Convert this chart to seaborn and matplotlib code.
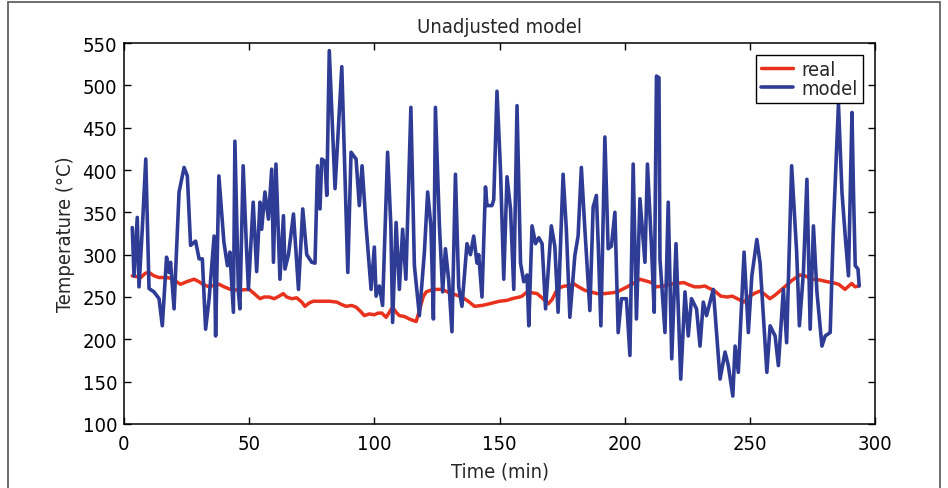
import seaborn as sns
import matplotlib.pyplot as plt
import matplotlib.patches as mpatches
import pandas as pd

# measured temperature (red)
real_time = [3.3, 6.7, 8.5, 10, 12, 14, 17, 19, 21, 22.6, 25, 28, 30, 31.5, 34, 36, 38, 40,
             42.5, 46, 50, 52, 54.3, 56, 58, 60, 62, 63.6, 65, 67, 69, 71, 72.3, 74, 75.6,
             78, 82, 85, 87, 88.7, 91, 92.7, 94.5, 96, 98, 100, 101.5, 103, 104.7, 106,
             107.3, 108.7, 110, 112, 114, 116.7, 118, 119.5, 120.7, 122.5, 124.5, 127, 130,
             133, 135, 137.5, 140, 143, 146, 150, 153, 155, 158, 159, 161, 163, 165, 167,
             169.5, 171, 172.5, 174, 176, 178, 179.5, 181, 184, 186.5, 189, 192, 195, 197,
             199, 201, 203.5, 206, 208.5, 210.7, 212.5, 215.7, 218, 220, 223.7, 226, 228,
             230, 232, 234, 236, 238.4, 241, 243, 245, 247.7, 249.5, 251.7, 254, 256, 258,
             260, 262, 264.7, 267, 270, 272, 275, 278, 281, 283, 285.5, 288, 290.7, 292, 293.4]
real_temp = [275, 273, 278, 279, 275, 273, 273, 272, 268, 265, 268, 271, 268, 265, 262, 264,
             265, 262, 259, 258, 259, 254, 248, 250, 250, 248, 251, 254, 250, 248, 249, 244,
             239, 243, 245, 245, 245, 244, 241, 239, 240, 238, 233, 228, 230, 229, 231, 231,
             226, 232, 238, 232, 228, 227, 224, 221, 234, 250, 256, 258, 259, 259, 255, 252,
             250, 245, 239, 240, 242, 245, 246, 248, 250, 251, 256, 255, 254, 249, 242, 247,
             256, 261, 263, 263, 266, 263, 258, 256, 254, 254, 255, 256, 259, 262, 266, 271,
             269, 267, 262, 263, 265, 266, 267, 264, 262, 262, 263, 260, 257, 251, 250, 251,
             248, 244, 250, 254, 257, 253, 248, 252, 257, 264, 270, 276, 275, 271, 270, 268,
             267, 265, 259, 266, 262, 263]

# unadjusted model output (blue)
model_time = [3.3, 4.0, 5.3, 6.0, 7.3, 8.7, 10.0, 12.0, 14.0, 15.3, 17.0, 18.0, 18.6, 20.0,
              20.6, 22.0, 24.0, 25.3, 26.6, 28.6, 30.0, 31.3, 32.6, 34.0, 36.0, 36.6, 37.9,
              39.9, 41.3, 42.3, 43.7, 44.3, 45.7, 46.3, 47.6, 48.9, 49.7, 51.6, 53.0, 54.3,
              55.0, 56.3, 57.7, 59.0, 59.7, 60.7, 62.3, 63.7, 64.3, 65.7, 67.7, 69.7, 71.4,
              73.0, 75.0, 76.3, 77.3, 78.3, 79.0, 80.3, 81.0, 82.0, 84.3, 87.0, 89.4, 90.7,
              92.7, 94.0, 95.1, 96.7, 98.7, 100.0, 100.7, 102.0, 103.3, 105.3, 106.6, 107.3,
              108.7, 110.0, 111.3, 112.6, 114.6, 116.0, 118.0, 120.0, 121.3, 122.6, 123.6,
              124.4, 126.0, 127.3, 128.4, 129.7, 131.0, 132.4, 133.7, 135.0, 137.0, 138.4,
              139.7, 141.0, 141.7, 143.0, 144.4, 145.0, 147.0, 147.7, 149.0, 150.4, 151.7,
              153.0, 154.4, 155.7, 157.0, 158.4, 159.7, 161.0, 161.7, 163.0, 164.4, 165.7,
              167.0, 168.4, 170.7, 172.1, 173.4, 175.4, 176.7, 178.1, 180.1, 181.4, 182.7,
              184.1, 186.1, 187.4, 188.7, 189.4, 190.5, 192.1, 193.4, 194.7, 196.1, 197.4,
              198.7, 200.7, 202.1, 203.4, 204.7, 206.1, 208.1, 209.1, 210.7, 211.8, 212.7,
              213.7, 214.1, 216.1, 217.4, 218.8, 220.5, 222.4, 224.1, 225.4, 226.7, 228.7,
              230.1, 231.4, 232.7, 234.1, 235.4, 238.1, 240.1, 241.4, 243.2, 244.1, 245.4,
              247.7, 249.4, 250.8, 252.8, 254.1, 256.8, 258.1, 260.1, 261.4, 263.4, 264.7,
              266.7, 268.7, 269.8, 271.4, 272.8, 274.1, 275.4, 276.8, 278.8, 280.1, 282.1,
              283.4, 285.4, 286.8, 288.1, 289.4, 290.8, 291.4, 292.1, 293.2, 293.7]
model_temp = [332, 275, 344, 262, 330, 413, 260, 256, 248, 216, 297, 279, 291, 236, 279, 374,
              403, 393, 311, 316, 295, 295, 212, 248, 322, 204, 393, 315, 287, 303, 232, 434,
              256, 236, 405, 310, 259, 362, 280, 362, 330, 374, 342, 401, 291, 407, 271, 346,
              283, 300, 348, 259, 354, 300, 291, 290, 405, 354, 413, 410, 370, 541, 378, 522,
              279, 421, 413, 358, 405, 334, 259, 309, 251, 263, 240, 421, 334, 220, 338, 259,
              330, 271, 474, 287, 228, 303, 374, 334, 224, 474, 334, 256, 307, 270, 209, 395,
              262, 239, 313, 300, 322, 290, 300, 250, 380, 358, 358, 365, 493, 400, 271, 392,
              354, 259, 476, 290, 268, 276, 216, 334, 313, 320, 313, 236, 334, 310, 232, 395,
              330, 226, 299, 322, 403, 330, 234, 356, 370, 315, 216, 439, 307, 310, 350, 208,
              248, 248, 181, 407, 224, 366, 291, 407, 310, 232, 511, 509, 295, 208, 362, 177,
              313, 153, 256, 204, 248, 236, 192, 244, 228, 244, 259, 153, 185, 169, 133, 192,
              161, 303, 208, 275, 318, 290, 161, 216, 204, 169, 259, 196, 405, 303, 216, 279,
              389, 212, 334, 256, 192, 204, 208, 334, 478, 374, 322, 275, 468, 374, 287, 283,
              263]

x_ticks = [0, 50, 100, 150, 200, 250, 300]
y_ticks = [100, 150, 200, 250, 300, 350, 400, 450, 500, 550]

sns.set_style("ticks")
plt.rcParams['font.family'] = ['DejaVu Sans']
plt.rcParams['font.stretch'] = 'condensed'
plt.rcParams['xtick.direction'] = 'in'
plt.rcParams['ytick.direction'] = 'in'

real = pd.DataFrame({'t': real_time, 'temp': real_temp})
model = pd.DataFrame({'t': model_time, 'temp': model_temp})

fig = plt.figure(figsize=(9.48, 4.89), dpi=100)
ax = fig.add_axes([0.1308, 0.1309, 0.7922, 0.7791])

sns.lineplot(data=real, x='t', y='temp', ax=ax, color='#e8321e', linewidth=2.5,
             sort=False, estimator=None, label='real')
sns.lineplot(data=model, x='t', y='temp', ax=ax, color='#2f3c96', linewidth=2.6,
             sort=False, estimator=None, label='model')

ax.set_xlim(0, 300)
ax.set_ylim(100, 550)
ax.set_xticks(x_ticks)
ax.set_yticks(y_ticks)
ax.tick_params(axis='both', which='both', direction='in', length=5, width=1,
               top=True, right=True, labelsize=14.5, colors='black')
ax.tick_params(axis='y', pad=5)
ax.tick_params(axis='x', pad=7)
for s in ax.spines.values():
    s.set_visible(True)
    s.set_linewidth(1.1)
    s.set_color('black')

ax.set_title('Unadjusted model', fontsize=14.5, pad=8)
ax.set_xlabel('Time (min)', fontsize=14.5, labelpad=6)
ax.set_ylabel('Temperature (°C)', fontsize=14.5, labelpad=5)

leg = ax.legend(loc='upper right', fontsize=14.5, handlelength=1.6, handletextpad=0.4,
                borderpad=0.25, labelspacing=0.0, borderaxespad=0.6, fancybox=False,
                framealpha=1, edgecolor='black')
leg.get_frame().set_linewidth(1.0)

# thin frame around the whole figure
fig.add_artist(mpatches.Rectangle((8 / 948, -0.02), 932 / 948, 1.0139, transform=fig.transFigure,
                                  fill=False, edgecolor='#555555', linewidth=1.2, clip_on=False))

fig.savefig('out.png', dpi=100)
